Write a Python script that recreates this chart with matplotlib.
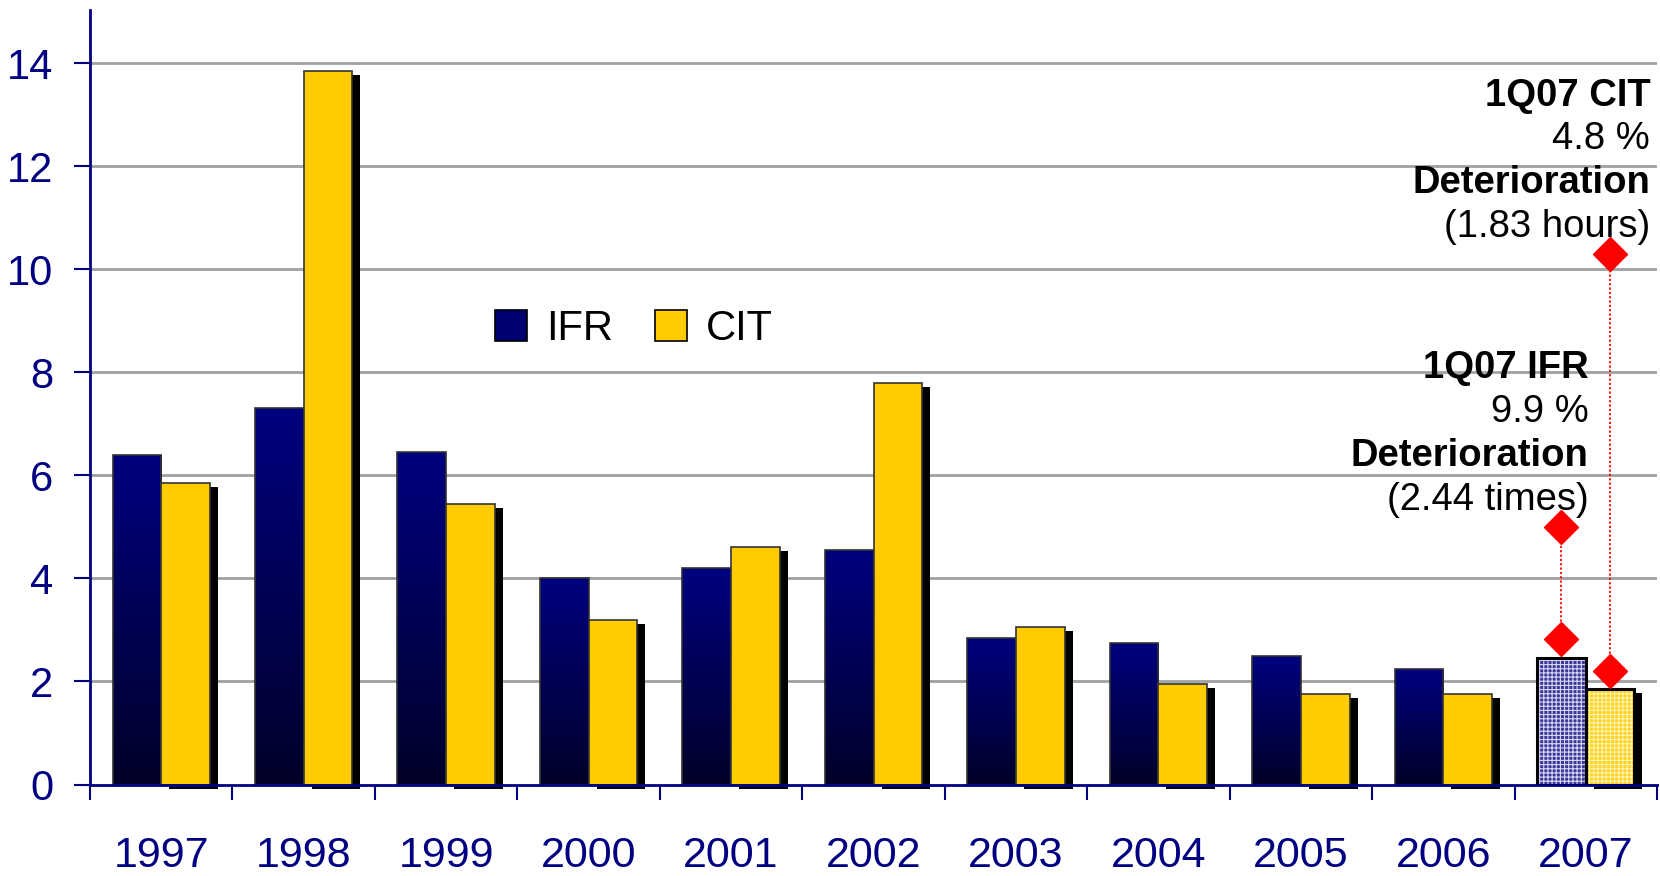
import matplotlib
matplotlib.use("Agg")
import matplotlib.pyplot as plt
import numpy as np
from matplotlib.patches import Rectangle, Patch
from matplotlib.colors import LinearSegmentedColormap
import matplotlib.transforms as mtransforms

years = ["1997", "1998", "1999", "2000", "2001", "2002", "2003", "2004", "2005", "2006", "2007"]
ifr = [6.4, 7.3, 6.45, 4.0, 4.2, 4.55, 2.85, 2.75, 2.5, 2.25, 2.45]
cit = [5.85, 13.85, 5.45, 3.2, 4.6, 7.8, 3.05, 1.95, 1.75, 1.75, 1.85]
ifr_markers = [2.83, 5.0]
cit_markers = [2.2, 10.3]
yticks = [0, 2, 4, 6, 8, 10, 12, 14]
cit_note = [("1Q07 CIT", "bold"), ("4.8 %", "normal"), ("Deterioration", "bold"), ("(1.83 hours)", "normal")]
ifr_note = [("1Q07 IFR", "bold"), ("9.9 %", "normal"), ("Deterioration", "bold"), ("(2.44 times)", "normal")]

plt.rcParams["font.family"] = ["Liberation Sans", "DejaVu Sans"]

NAVY = "#000080"
fig = plt.figure(figsize=(16.6, 8.76), dpi=100)
ax = fig.add_axes([90 / 1660, (876 - 784.5) / 876, (1657 - 90) / 1660, (784.5 - 10) / 876])

n = len(years)
x = np.arange(n)
w = 0.342

# grid
for yv in yticks[1:]:
    ax.axhline(yv, color="#a0a0a0", lw=2, zorder=0)

shadow_tr = mtransforms.offset_copy(ax.transData, fig=fig, x=8, y=-4, units="dots")
grad_cmap = LinearSegmentedColormap.from_list("g", ["#000028", "#000080"])
grad = np.linspace(0, 1, 256).reshape(-1, 1)
plt.rcParams["hatch.linewidth"] = 0.8

for i in range(n):
    xi = x[i] - w
    xc = x[i]
    last = i == n - 1
    ax.add_patch(Rectangle((xc, 0), w, cit[i], facecolor="black", edgecolor="none",
                           transform=shadow_tr, zorder=1, clip_on=False))
    if not last:
        ax.add_patch(Rectangle((xi, 0), w, ifr[i], facecolor="none", edgecolor="#333333", lw=1.2, zorder=3))
        im = ax.imshow(grad, extent=[xi, xi + w, 0, ifr[i]], origin="lower", aspect="auto",
                       cmap=grad_cmap, zorder=2, interpolation="bilinear")
        im.set_clip_path(Rectangle((xi, 0), w, ifr[i], transform=ax.transData, facecolor="none"))
        ax.add_patch(Rectangle((xc, 0), w, cit[i], facecolor="#ffcc00", edgecolor="#333333",
                               lw=1.2, zorder=3))
    else:
        ax.add_patch(Rectangle((xi, 0), w, ifr[i], facecolor="#3a3a9a", edgecolor="#d8d8f4",
                               hatch="++++", lw=0, zorder=2))
        ax.add_patch(Rectangle((xi, 0), w, ifr[i], facecolor="none", edgecolor="black", lw=2.2, zorder=3))
        ax.add_patch(Rectangle((xc, 0), w, cit[i], facecolor="#ffd21e", edgecolor="#fff3b8",
                               hatch="++++", lw=0, zorder=2))
        ax.add_patch(Rectangle((xc, 0), w, cit[i], facecolor="none", edgecolor="black", lw=2.2, zorder=3))

ax.set_xlim(-0.5, n - 0.5)
ax.set_ylim(0, 15.03)

# markers and dotted lines
xi_m = x[-1] - w / 2
xc_m = x[-1] + w / 2
ax.plot([xi_m, xi_m], ifr_markers, color="red", lw=1.3, ls=(0, (1.2, 1.2)), zorder=5)
ax.plot([xc_m, xc_m], cit_markers, color="red", lw=1.3, ls=(0, (1.2, 1.2)), zorder=5)
ax.plot([xi_m] * 2, ifr_markers, ls="none", marker="D", ms=17, color="red", mec="red", zorder=6)
ax.plot([xc_m] * 2, cit_markers, ls="none", marker="D", ms=17, color="red", mec="red", zorder=6)

# annotations
for j, (t, fw) in enumerate(cit_note):
    ax.text(10.452, 13.37 - j * 0.852, t, ha="right", va="center", fontsize=27.5, fontweight=fw,
            color="black", zorder=4)
for j, (t, fw) in enumerate(ifr_note):
    ax.text(10.02, 8.08 - j * 0.852, t, ha="right", va="center", fontsize=27.5, fontweight=fw,
            color="black", zorder=4)

# spines
for s in ["top", "right"]:
    ax.spines[s].set_visible(False)
for s in ["left", "bottom"]:
    ax.spines[s].set_color(NAVY)
    ax.spines[s].set_linewidth(2)
ax.spines["bottom"].set_zorder(7)

ax.set_yticks(yticks)
ax.set_yticklabels([str(v) for v in yticks])
ax.tick_params(axis="y", length=11.5, width=1.5, color=NAVY, labelcolor=NAVY, labelsize=30, pad=15)

ax.set_xticks(np.arange(-0.5, n, 1.0))
ax.set_xticklabels([])
ax.tick_params(axis="x", which="major", length=11, width=1.5, color=NAVY)
ax.set_xticks(x, minor=True)
ax.set_xticklabels(years, minor=True)
ax.tick_params(axis="x", which="minor", length=0, labelcolor=NAVY, labelsize=31, pad=37)

# legend
h1 = Patch(facecolor="#000070", edgecolor="black", lw=1.2, label="IFR")
h2 = Patch(facecolor="#ffcc00", edgecolor="black", lw=1.2, label="CIT")
leg = fig.legend(handles=[h1, h2], loc="center left", bbox_to_anchor=(495 / 1660, 1 - 329 / 876),
                 ncol=2, frameon=False, fontsize=30, handlelength=0.77, handleheight=0.77,
                 handletextpad=0.46, columnspacing=1.0, borderpad=0, borderaxespad=0)

fig.savefig("out.png", dpi=100)
